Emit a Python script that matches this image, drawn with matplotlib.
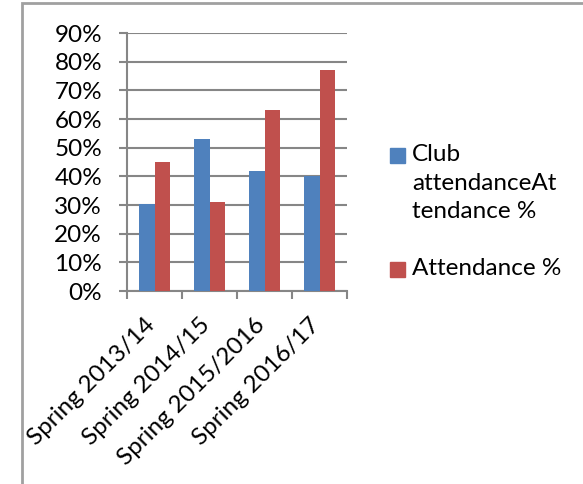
import matplotlib
matplotlib.use("Agg")
import matplotlib.pyplot as plt
import matplotlib.transforms as mtransforms
import numpy as np
from matplotlib.patches import Rectangle

categories = ['Spring 2013/14', 'Spring 2014/15', 'Spring 2015/2016', 'Spring 2016/17']
club = [30.5, 53, 42, 40]
attendance = [45, 31, 63, 77]
series_names = ['Club\nattendanceAt\ntendance %', 'Attendance %']
colors = ['#4f81bd', '#c0504d']

plt.rcParams['font.family'] = ['Lato', 'DejaVu Sans']
FS = 17.5
W, H = 583, 484

fig = plt.figure(figsize=(W/100, H/100), dpi=100)
ax = fig.add_axes([127/W, 1 - 291/H, 220/W, 258/H])

grey = '#868686'
x = np.arange(len(categories))
w = 0.2857
ax.bar(x - w/2, club, w, color=colors[0], zorder=3)
ax.bar(x + w/2, attendance, w, color=colors[1], zorder=3)

ax.set_xlim(-0.5, 3.5)
ax.set_ylim(0, 90)
ax.set_yticks(range(0, 91, 10))
ax.set_yticklabels([f'{v}%' for v in range(0, 91, 10)], fontsize=FS)
ax.yaxis.grid(True, color=grey, linewidth=1.5, zorder=0)

ax.set_xticks(np.arange(-0.5, 4, 1))
ax.set_xticklabels([])
ax.set_xticks(x, minor=True)
ax.set_xticklabels(categories, minor=True, rotation=45, ha='right', va='top',
                   rotation_mode='anchor', fontsize=FS)
ax.tick_params(axis='x', which='minor', length=0, pad=17)
ax.tick_params(axis='x', which='major', length=6, width=1.5, color=grey)
ax.tick_params(axis='y', length=6, width=1.5, color=grey, pad=12)

# nudge the slanted labels a little to the left, like Excel does
shift = mtransforms.ScaledTranslation(-10/100, 0, fig.dpi_scale_trans)
for lbl in ax.get_xticklabels(minor=True):
    lbl.set_transform(lbl.get_transform() + shift)

for s in ['top', 'right']:
    ax.spines[s].set_visible(False)
for s in ['left', 'bottom']:
    ax.spines[s].set_color(grey)
    ax.spines[s].set_linewidth(1.5)

# legend drawn by hand so the swatch sits on the first text line
legend_y = [155, 269]
for name, col, yc in zip(series_names, colors, legend_y):
    fig.add_artist(Rectangle((390/W, 1 - (yc + 7.5)/H), 15/W, 15/H,
                             transform=fig.transFigure, color=col))
    fig.text(412/W, 1 - (yc - 11)/H, name, fontsize=FS, va='top', ha='left',
             linespacing=1.45)

fig.add_artist(Rectangle((22/W, -0.1), 1.0, 1.1 - 3/H, transform=fig.transFigure,
                         fill=False, edgecolor='#a0a0a0', linewidth=2))

fig.savefig('out.png', dpi=100)
